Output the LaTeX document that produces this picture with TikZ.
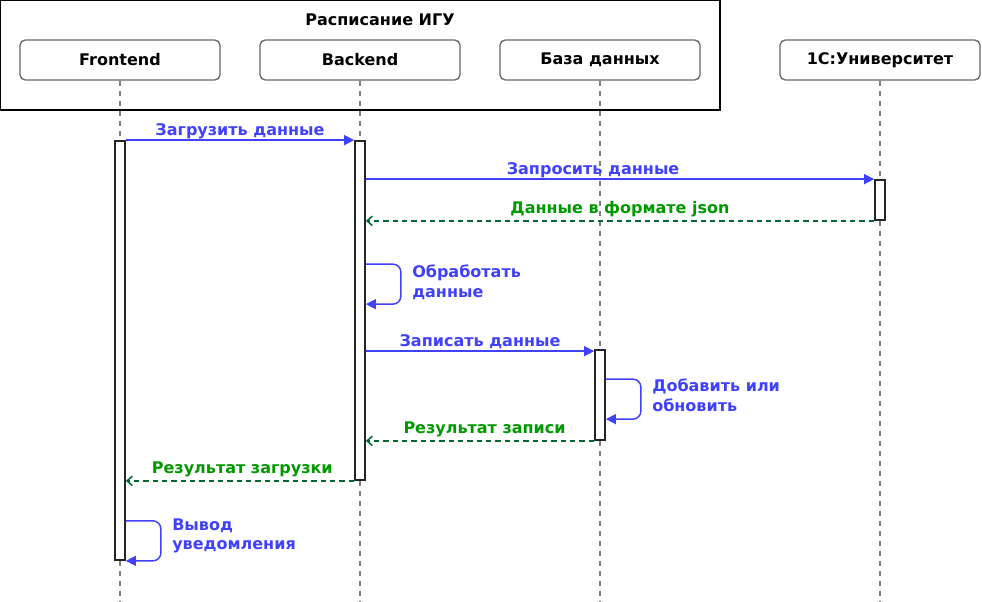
\documentclass[tikz,border=0pt]{standalone}
\usepackage{fontspec}
\setmainfont{DejaVu Sans}
\usetikzlibrary{arrows.meta,fit,calc}
\definecolor{msgblue}{RGB}{64,64,255}
\definecolor{retgreen}{RGB}{0,153,0}
\definecolor{retline}{RGB}{0,102,51}
\definecolor{lifegray}{RGB}{102,102,102}
\tikzset{
  labelfont/.style={font=\fontsize{12}{14.3}\selectfont\bfseries},
  frame/.style={draw=black, line width=0.8pt},
  participant/.style={draw=lifegray, fill=white, rounded corners=4pt, line width=1pt,
    minimum width=150pt, minimum height=30pt, labelfont},
  lifeline/.style={lifegray!85, line width=1pt, dash pattern=on 4pt off 3.5pt},
  activation/.style={draw=black!85, fill=white, line width=1.3pt, inner sep=0pt},
  msg/.style={msgblue, line width=1.1pt, -{Triangle[length=7.5pt,width=7.5pt]}},
  ret/.style={retline, line width=1.1pt, dash pattern=on 4pt off 3pt,
    -{Straight Barb[length=4pt,width=7pt]}},
  msglabel/.style={text=msgblue, labelfont, anchor=base, yshift=3.8pt, inner sep=0pt},
  retlabel/.style={text=retgreen, labelfont, anchor=base, yshift=5.6pt, inner sep=0pt},
  looplabel/.style={text=msgblue, labelfont, anchor=north west, align=left, inner sep=0pt},
}
\begin{document}
\begin{tikzpicture}[x=0.75pt,y=-0.75pt]
  \useasboundingbox (0,0) rectangle (982,602);
  \coordinate (bottom) at (0,602);
  % frame
  \draw[frame] (0.6,0.6) rectangle (720,110);
  \node[labelfont] (title) at (380,20) {Расписание ИГУ};
  % participants
  \node[participant] (front) at (120,60) {Frontend};
  \node[participant] (back) at (360,60) {Backend};
  \node[participant] (db) at (600,60) {База данных};
  \node[participant] (univ) at (880,60) {1С:Университет};
  \foreach \p in {front,back,db,univ}
    \draw[lifeline] (\p.south) -- (\p.south |- bottom);
  % activations
  \node[activation, fit={(115,141) (125,560)}] (actF) {};
  \node[activation, fit={(355,141) (365,480)}] (actB) {};
  \node[activation, fit={(875,180) (885,220)}] (actU) {};
  \node[activation, fit={(595,350) (605,440)}] (actD) {};
  % messages
  \draw[msg] (actF.north east) -- (actB.north west)
    node[msglabel, midway] (m1) {Загрузить данные};
  \draw[msg] (actB.east |- actU.north) -- (actU.north west)
    node[msglabel, pos=0.447] (m2) {Запросить данные};
  \draw[ret] (actU.south west) -- (actB.east |- actU.south)
    node[retlabel, midway] (r2) {Данные в формате json};
  \draw[msg, rounded corners=6pt] ($(actB.north east)+(0,124)$) -- ++(35,0) -- ++(0,40) -- ++(-35,0);
  \node[looplabel] (l1) at (412,265) {Обработать\\данные};
  \draw[msg] ($(actB.east |- actD.north)+(0,2)$) -- ($(actD.north west)+(0,2)$)
    node[msglabel, midway] (m3) {Записать данные};
  \draw[msg, rounded corners=6pt] ($(actD.north east)+(0,30)$) -- ++(35,0) -- ++(0,40) -- ++(-35,0);
  \node[looplabel] (l2) at (652,379) {Добавить или\\обновить};
  \draw[ret] (actD.south west) -- (actB.east |- actD.south)
    node[retlabel, pos=0.48] (r3) {Результат записи};
  \draw[ret] (actB.south west) -- (actF.east |- actB.south)
    node[retlabel, pos=0.49] (r1) {Результат загрузки};
  \draw[msg, rounded corners=6pt] ($(actF.south east)+(0,-40)$) -- ++(35,0) -- ++(0,40) -- ++(-35,0);
  \node[looplabel] (l3) at (172,519) {Вывод\\уведомления};
\end{tikzpicture}
\end{document}
